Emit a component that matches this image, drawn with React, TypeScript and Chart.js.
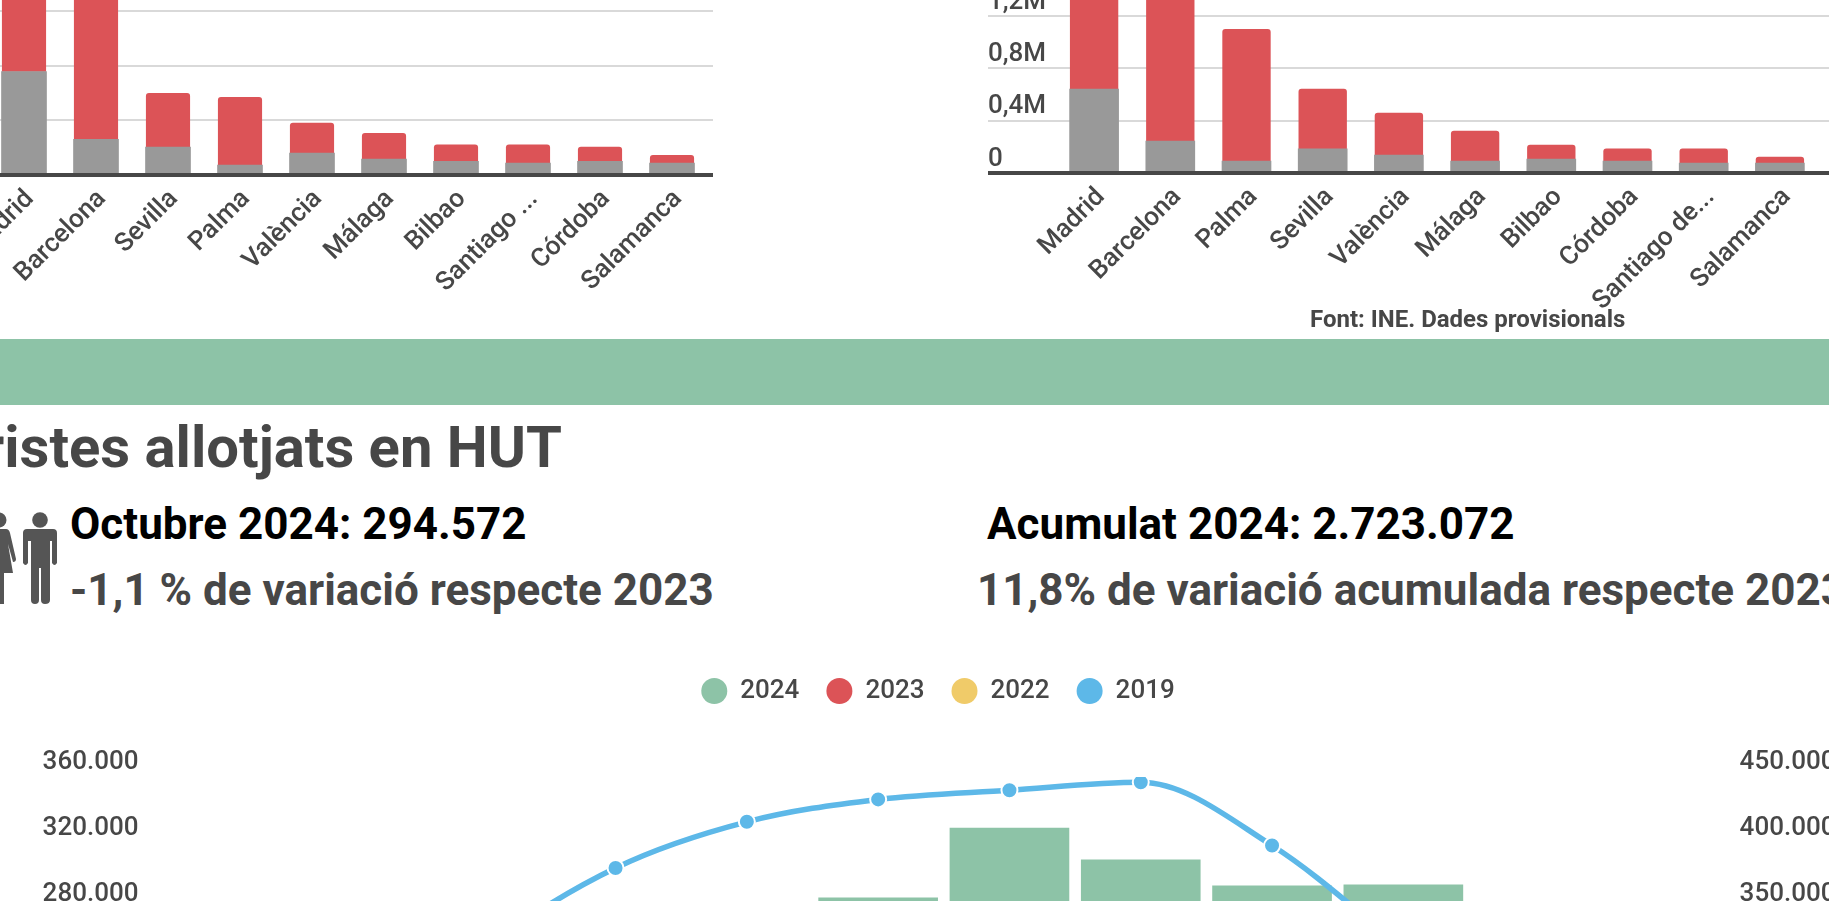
import React, { useEffect, useRef } from "react";
import { Chart, registerables } from "chart.js";

Chart.register(...registerables);

const TEXT = "#474747";
const GREEN = "#8DC3A7";
const RED = "#DC5357";
const YELLOW = "#F0CB69";
const BLUE = "#5DB8E8";
const GRAY = "#999999";
const GRID = "#D9D9D9";

const leftCities = ["Madrid", "Barcelona", "Sevilla", "Palma", "València", "Málaga", "Bilbao", "Santiago ...", "Córdoba", "Salamanca"];
const leftGray = [189000, 65000, 51000, 18000, 40000, 29000, 25000, 22000, 25000, 22000];
const leftRed = [191000, 335000, 98000, 124000, 55000, 47000, 30000, 33000, 26000, 14000];

const rightCities = ["Madrid", "Barcelona", "Palma", "Sevilla", "València", "Málaga", "Bilbao", "Córdoba", "Santiago de...", "Salamanca"];
const rightGray = [642000, 245000, 92000, 184000, 138000, 92000, 107000, 92000, 76000, 76000];
const rightRed = [1750000, 2300000, 1008000, 458000, 321000, 228000, 107000, 92000, 108000, 46000];

const months = ["Gener", "Febrer", "Març", "Abril", "Maig", "Juny", "Juliol", "Agost", "Setembre", "Octubre", "Novembre", "Desembre"];
const values2024 = [195000, 210000, 260000, 272000, 272000, 286700, 329000, 309700, 294000, 294572, null, null];
const values2023 = [160000, 170000, 215000, 255000, 265000, 265000, 300000, 300000, 285000, 297800, 210000, 190000];
const values2022 = [130000, 150000, 190000, 230000, 240000, 245000, 275000, 285000, 265000, 275000, 195000, 175000];
const values2019 = [215000, 235000, 320000, 381000, 416000, 433000, 440000, 446000, 398000, 320000, 240000, 225000];

const fmtM = (v: number) => (v === 0 ? "0" : (v / 1e6).toFixed(1).replace(".", ",") + "M");
const fmtK = (v: number) => String(v).replace(/\B(?=(\d{3})+$)/g, ".");
const tickFont = { family: "Roboto", size: 26, weight: "500" as const };

const zeroPad = (s: any) => {
  s.paddingTop = 0;
  s.paddingBottom = 0;
  s.paddingLeft = 0;
  s.paddingRight = 0;
};

function StackChart(p: {
  w: number; h: number;
  labels: string[]; gray: number[]; red: number[]; max: number; step: number;
  stub: number; grayW: number; redW: number; labelX: number; labelPad: number; labelH: number;
}) {
  const ref = useRef<HTMLCanvasElement>(null);
  useEffect(() => {
    const gridColor = (c: any) => (c.tick.value === 0 ? TEXT : GRID);
    const gridWidth = (c: any) => (c.tick.value === 0 ? 4 : 2);
    const chart = new Chart(ref.current!, {
      type: "bar",
      data: {
        labels: p.labels,
        datasets: [
          { label: "gris", data: p.gray, backgroundColor: GRAY, barThickness: p.grayW, borderRadius: 0 },
          { label: "vermell", data: p.red, backgroundColor: RED, barThickness: p.redW,
            borderSkipped: false, borderRadius: { topLeft: 3, topRight: 3, bottomLeft: 0, bottomRight: 0 } },
        ],
      },
      options: {
        responsive: false,
        animation: false,
        plugins: { legend: { display: false }, tooltip: { enabled: false } },
        scales: {
          x: {
            stacked: true,
            grid: { display: false },
            border: { display: true, color: TEXT, width: 4, z: 1 },
            ticks: {
              font: tickFont, color: TEXT, autoSkip: false, minRotation: 45, maxRotation: 45,
              padding: p.labelPad, labelOffset: p.labelX,
            },
            afterFit: (s: any) => { zeroPad(s); s.height = p.labelH; },
          },
          y: {
            stacked: true, min: 0, max: p.max,
            grid: { color: gridColor, lineWidth: gridWidth, tickLength: 68, drawTicks: true },
            border: { display: false },
            ticks: {
              stepSize: p.step, font: tickFont, color: TEXT, mirror: true, padding: -68, labelOffset: -14,
              callback: (v: any) => fmtM(Number(v)),
            },
            afterFit: (s: any) => { zeroPad(s); s.width = 68; },
          },
          y2: {
            position: "right", min: 0, max: p.max,
            grid: { color: gridColor, lineWidth: gridWidth, tickLength: p.stub, drawOnChartArea: false },
            border: { display: false },
            ticks: { stepSize: p.step, display: false },
            afterFit: (s: any) => { zeroPad(s); s.width = p.stub; },
          },
        },
      } as any,
    });
    return () => chart.destroy();
  }, []);
  return <canvas ref={ref} width={p.w} height={p.h} style={{ display: "block" }} />;
}

function LineBarChart() {
  const ref = useRef<HTMLCanvasElement>(null);
  useEffect(() => {
    const lineDs = (label: string, data: number[], color: string, order: number) => ({
      type: "line" as const, label, data, yAxisID: "yr", order,
      borderColor: color, backgroundColor: color, borderWidth: 5.5, cubicInterpolationMode: "monotone", fill: false,
      pointRadius: 8, pointBackgroundColor: color, pointBorderColor: "#ffffff", pointBorderWidth: 2,
    });
    const chart = new Chart(ref.current!, {
      type: "bar",
      data: {
        labels: months,
        datasets: [
          { type: "bar" as const, label: "2024", data: values2024, yAxisID: "yl", order: 10,
            backgroundColor: GREEN, barThickness: 119 },
          lineDs("2023", values2023, RED, 3),
          lineDs("2022", values2022, YELLOW, 2),
          lineDs("2019", values2019, BLUE, 1),
        ],
      },
      options: {
        responsive: false,
        animation: false,
        plugins: {
          tooltip: { enabled: false },
          title: { display: true, text: "", weight: 500, font: { size: 1, lineHeight: 1 }, padding: { top: 0, bottom: 62 } },
          legend: {
            display: true,
            position: "top",
            labels: {
              usePointStyle: true, pointStyleWidth: 26, boxHeight: 18.4, padding: 27,
              font: tickFont, color: TEXT,
              generateLabels: (c: any) => c.data.datasets.map((d: any, i: number) => ({
                text: d.label, fillStyle: d.backgroundColor, strokeStyle: d.backgroundColor,
                lineWidth: 0, pointStyle: "circle", datasetIndex: i, fontColor: TEXT,
              })),
            },
          },
        },
        scales: {
          x: {
            grid: { display: false }, border: { display: false },
            ticks: { font: tickFont, color: TEXT, autoSkip: false, maxRotation: 0 },
            afterFit: (s: any) => { zeroPad(s); s.height = 60; },
          },
          yl: {
            position: "left", min: 0, max: 360000,
            grid: { display: false }, border: { display: false },
            ticks: { stepSize: 40000, font: tickFont, color: TEXT, padding: 9.5, labelOffset: -14.5, callback: (v: any) => fmtK(Number(v)) },
            afterFit: (s: any) => { zeroPad(s); s.width = 156; },
          },
          yr: {
            position: "right", min: 0, max: 450000,
            grid: { display: false }, border: { display: false },
            ticks: { stepSize: 50000, font: tickFont, color: TEXT, padding: 0, labelOffset: -14.5, callback: (v: any) => fmtK(Number(v)) },
            afterFit: (s: any) => { zeroPad(s); s.width = 144.4; },
          },
        },
      } as any,
    });
    return () => chart.destroy();
  }, []);
  return <canvas ref={ref} width={1876} height={779} style={{ display: "block" }} />;
}

const abs = (left: number, top: number): React.CSSProperties => ({ position: "absolute", left, top });

function Txt(p: { x?: number; right?: number; base: number; size: number; color: string; children: React.ReactNode }) {
  return (
    <div style={{
      position: "absolute", left: p.x, right: p.right, top: p.base - 0.8415 * p.size,
      fontFamily: "Roboto", fontWeight: 700, fontSize: p.size, lineHeight: 1, color: p.color, whiteSpace: "nowrap",
    }}>{p.children}</div>
  );
}

export default function App() {
  return (
    <div style={{ position: "fixed", left: 0, top: 0, width: 1829, height: 901, overflow: "hidden", background: "#fff" }}>
      <div style={abs(-80, -44)}>
        <StackChart w={793} h={379} labels={leftCities} gray={leftGray} red={leftRed} max={400000} step={100000}
          stub={5} grayW={45} redW={43.5} labelX={6} labelPad={1} labelH={160} />
      </div>
      <div style={abs(988, -193)}>
        <StackChart w={850} h={536} labels={rightCities} gray={rightGray} red={rightRed} max={2800000} step={400000}
          stub={20} grayW={49} redW={47.7} labelX={7} labelPad={1} labelH={170} />
      </div>
      <Txt x={1310} base={327} size={24} color={TEXT}>Font: INE. Dades provisionals</Txt>
      <div style={{ position: "absolute", left: 0, top: 339, width: 1829, height: 66, background: GREEN }} />
      <Txt right={1267} base={467} size={58} color={TEXT}>Turistes allotjats en HUT</Txt>
      <svg style={abs(0, 505)} width={60} height={105} viewBox="0 505 60 105">
        <g fill="#555555">
          <circle cx={-1} cy={520} r={7.5} />
          <path d="M-6 529 H6 Q9 529 10 533 L16 559 Q16 562 13 562 L8 544 L13 573 H4 V604 H-2 V573 H-6 Z" />
          <circle cx={40} cy={520} r={7.8} />
          <path d="M27 529 H53 Q57 529 57 533 V563 Q54.5 567 52 563 V541 H50 V600 Q50 604 45 604 Q41 604 41 600 V568 H39 V600 Q39 604 35 604 Q31 604 31 600 V541 H28 V563 Q25.5 567 23 563 V533 Q23 529 27 529 Z" />
        </g>
      </svg>
      <Txt x={70} base={539.5} size={44} color="#000000">Octubre 2024: 294.572</Txt>
      <Txt x={70} base={605} size={44} color={TEXT}>-1,1 % de variació respecte 2023</Txt>
      <Txt x={987} base={539.5} size={44} color="#000000">Acumulat 2024: 2.723.072</Txt>
      <Txt x={977} base={605} size={44} color={TEXT}>11,8% de variació acumulada respecte 2023</Txt>
      <div style={abs(0, 651)}>
        <LineBarChart />
      </div>
    </div>
  );
}
